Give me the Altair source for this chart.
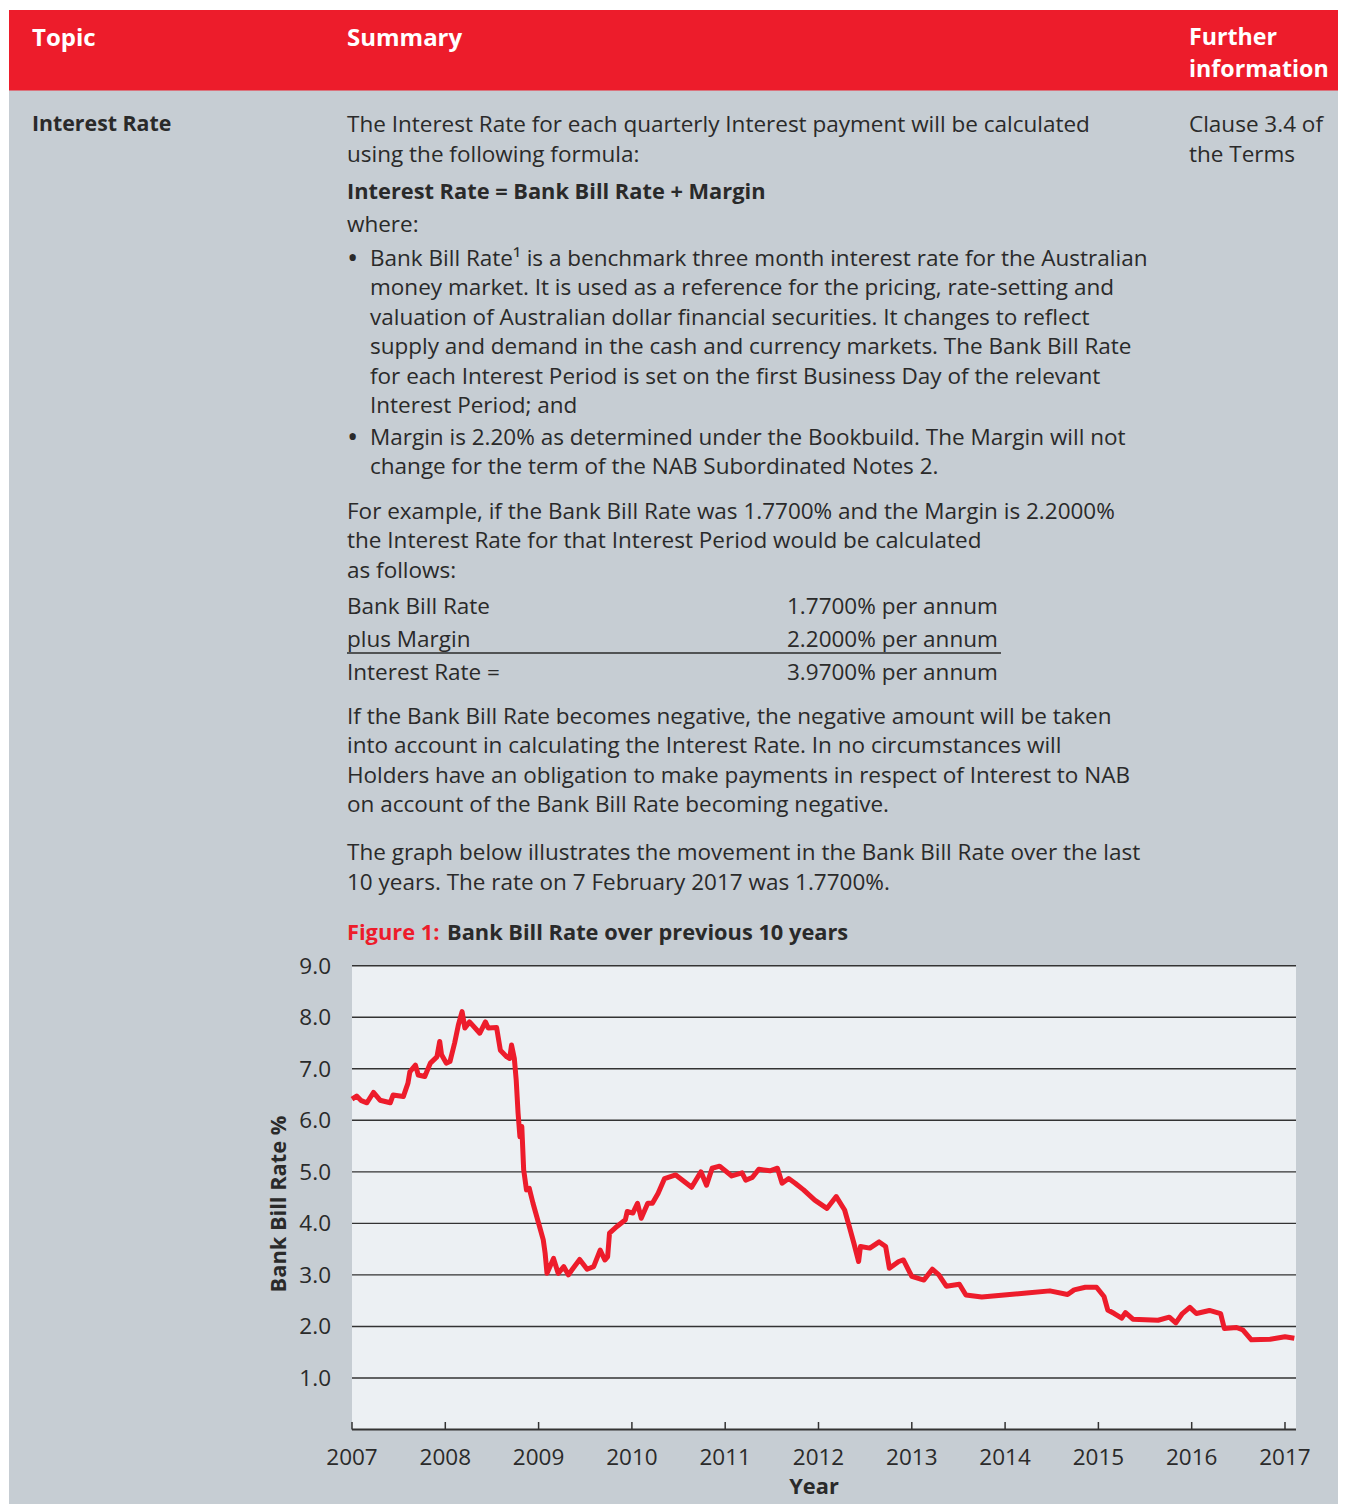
import altair as alt
import pandas as pd

# ---------------- data ----------------
years = [2007.00, 2007.05, 2007.10, 2007.16, 2007.23, 2007.30, 2007.41, 2007.44, 2007.55, 2007.60,
         2007.62, 2007.68, 2007.71, 2007.78, 2007.84, 2007.91, 2007.94, 2007.96, 2008.01, 2008.05,
         2008.10, 2008.14, 2008.18, 2008.21, 2008.26, 2008.37, 2008.43, 2008.46, 2008.55, 2008.59,
         2008.66, 2008.69, 2008.71, 2008.74, 2008.76, 2008.78, 2008.80, 2008.82, 2008.84, 2008.87,
         2008.90, 2008.94, 2009.01, 2009.05, 2009.07, 2009.09, 2009.16, 2009.21, 2009.27, 2009.32,
         2009.37, 2009.44, 2009.52, 2009.59, 2009.66, 2009.71, 2009.74, 2009.76, 2009.84, 2009.93,
         2009.95, 2010.01, 2010.06, 2010.10, 2010.17, 2010.22, 2010.28, 2010.35, 2010.47, 2010.64,
         2010.74, 2010.80, 2010.86, 2010.94, 2011.07, 2011.18, 2011.22, 2011.29, 2011.36, 2011.48,
         2011.56, 2011.61, 2011.68, 2011.75, 2011.84, 2011.96, 2012.09, 2012.19, 2012.28, 2012.33,
         2012.38, 2012.43, 2012.45, 2012.55, 2012.65, 2012.72, 2012.76, 2012.86, 2012.91, 2013.00,
         2013.13, 2013.22, 2013.29, 2013.37, 2013.51, 2013.58, 2013.75, 2013.99, 2014.23, 2014.48,
         2014.67, 2014.74, 2014.86, 2014.98, 2015.06, 2015.10, 2015.17, 2015.25, 2015.29, 2015.37,
         2015.64, 2015.76, 2015.83, 2015.90, 2015.98, 2016.05, 2016.19, 2016.31, 2016.35, 2016.48,
         2016.55, 2016.64, 2016.84, 2017.00, 2017.10]
rates = [6.41, 6.47, 6.38, 6.34, 6.54, 6.39, 6.34, 6.49, 6.46, 6.72,
         6.94, 7.07, 6.88, 6.85, 7.11, 7.23, 7.53, 7.27, 7.11, 7.14,
         7.50, 7.85, 8.11, 7.79, 7.91, 7.69, 7.91, 7.79, 7.80, 7.36,
         7.23, 7.20, 7.46, 7.20, 6.78, 6.14, 5.68, 5.88, 5.04, 4.65,
         4.68, 4.39, 3.94, 3.68, 3.42, 3.03, 3.32, 3.03, 3.16, 3.00,
         3.13, 3.30, 3.11, 3.16, 3.48, 3.29, 3.35, 3.81, 3.94, 4.07,
         4.23, 4.20, 4.39, 4.10, 4.39, 4.39, 4.58, 4.87, 4.94, 4.70,
         5.00, 4.74, 5.07, 5.11, 4.92, 4.98, 4.84, 4.89, 5.05, 5.02,
         5.07, 4.78, 4.87, 4.78, 4.65, 4.45, 4.29, 4.52, 4.26, 3.94,
         3.61, 3.26, 3.55, 3.52, 3.64, 3.55, 3.13, 3.26, 3.29, 2.97,
         2.90, 3.11, 3.00, 2.78, 2.82, 2.61, 2.57, 2.61, 2.65, 2.69,
         2.62, 2.71, 2.76, 2.76, 2.58, 2.32, 2.25, 2.16, 2.27, 2.14,
         2.12, 2.18, 2.07, 2.25, 2.37, 2.25, 2.31, 2.25, 1.96, 1.98,
         1.93, 1.74, 1.75, 1.80, 1.77]
y_grid_values = [1, 2, 3, 4, 5, 6, 7, 8, 9]
y_tick_labels = ["1.0", "2.0", "3.0", "4.0", "5.0", "6.0", "7.0", "8.0", "9.0"]
x_tick_years = [2007, 2008, 2009, 2010, 2011, 2012, 2013, 2014, 2015, 2016, 2017]
x_domain = [2007, 2017.118]
y_domain = [0, 9]

header_cols = ["Topic", "Summary"]
header_further = ["Further", "information"]
topic_label = "Interest Rate"
further_info = ["Clause 3.4 of", "the Terms"]
intro_lines = ["The Interest Rate for each quarterly Interest payment will be calculated",
               "using the following formula:"]
formula_line = "Interest Rate = Bank Bill Rate + Margin"
where_line = "where:"
bullet1_lines = ["Bank Bill Rate\u00b9 is a benchmark three month interest rate for the Australian",
                 "money market. It is used as a reference for the pricing, rate-setting and",
                 "valuation of Australian dollar financial securities. It changes to reflect",
                 "supply and demand in the cash and currency markets. The Bank Bill Rate",
                 "for each Interest Period is set on the first Business Day of the relevant",
                 "Interest Period; and"]
bullet2_lines = ["Margin is 2.20% as determined under the Bookbuild. The Margin will not",
                 "change for the term of the NAB Subordinated Notes 2."]
example_lines = ["For example, if the Bank Bill Rate was 1.7700% and the Margin is 2.2000%",
                 "the Interest Rate for that Interest Period would be calculated",
                 "as follows:"]
table_left = ["Bank Bill Rate", "plus Margin", "Interest Rate ="]
table_right = ["1.7700% per annum", "2.2000% per annum", "3.9700% per annum"]
negative_lines = ["If the Bank Bill Rate becomes negative, the negative amount will be taken",
                  "into account in calculating the Interest Rate. In no circumstances will",
                  "Holders have an obligation to make payments in respect of Interest to NAB",
                  "on account of the Bank Bill Rate becoming negative."]
graph_lines = ["The graph below illustrates the movement in the Bank Bill Rate over the last",
               "10 years. The rate on 7 February 2017 was 1.7700%."]
figure_label = "Figure 1:"
figure_title = "Bank Bill Rate over previous 10 years"
y_title = "Bank Bill Rate %"
x_title = "Year"

# ---------------- styling / layout ----------------
FONT = "Open Sans"
RED = "#ED1C2B"
GRAY = "#C6CDD3"
PLOT_BG = "#ECF0F3"
TXT = "#2A2A2A"
GRID = "#333333"
OFF = 8
W, H = 1330, 1496
FS = 22.5
FSB = 21.8
LH = 29.4
DY = 1  # visual centre correction for 'middle' baseline


def p(v):
    return v - OFF


dummy = pd.DataFrame({"d": [0]})

regular_rows, bold_rows = [], []


def add(rows, x, y, t, color=TXT, size=FS):
    rows.append({"x": p(x), "y": p(y + DY), "t": t, "c": color, "s": size})


# header
HFS = 24
add(bold_rows, 32, 38, header_cols[0], "#FFFFFF", HFS)
add(bold_rows, 347, 38, header_cols[1], "#FFFFFF", HFS)
add(bold_rows, 1189, 36.5, header_further[0], "#FFFFFF", 23.2)
add(bold_rows, 1189, 68.5, header_further[1], "#FFFFFF", 23.2)

# left / right columns
add(bold_rows, 32, 124, topic_label, TXT, 21.3)
for i, t in enumerate(further_info):
    add(regular_rows, 1189, 124 + i * 30, t)

# summary
for i, t in enumerate(intro_lines):
    add(regular_rows, 347, 124 + i * 30, t)
add(bold_rows, 347, 191, formula_line, TXT, FSB)
add(regular_rows, 347, 224, where_line)
for i, t in enumerate(bullet1_lines):
    add(regular_rows, 370, 258 + i * LH, t)
add(regular_rows, 347, 258, "\u2022", TXT, 30)
for i, t in enumerate(bullet2_lines):
    add(regular_rows, 370, 437 + i * LH, t)
add(regular_rows, 347, 437, "\u2022", TXT, 30)
for i, t in enumerate(example_lines):
    add(regular_rows, 347, 511 + i * LH, t)
for i, (a, b) in enumerate(zip(table_left, table_right)):
    add(regular_rows, 347, 606 + i * 33, a)
    add(regular_rows, 787, 606 + i * 33, b)
for i, t in enumerate(negative_lines):
    add(regular_rows, 347, 716 + i * LH, t)
for i, t in enumerate(graph_lines):
    add(regular_rows, 347, 852 + i * 30, t)
add(bold_rows, 347, 932, figure_label, RED, FSB)
add(bold_rows, 447, 932, figure_title, TXT, FSB)


def text_layer(rows, weight):
    return alt.Chart(pd.DataFrame(rows)).mark_text(
        align="left", baseline="middle", font=FONT, fontWeight=weight
    ).encode(
        x=alt.X("x:Q", scale=None, axis=None),
        y=alt.Y("y:Q", scale=None, axis=None),
        text="t:N",
        color=alt.Color("c:N", scale=None, legend=None),
        size=alt.Size("s:Q", scale=None, legend=None),
    )


def rect(x0, y0, x1, y1, color):
    return alt.Chart(dummy).mark_rect(color=color).encode(
        x=alt.value(p(x0)), x2=alt.value(p(x1)), y=alt.value(p(y0)), y2=alt.value(p(y1))
    )


page_bg = rect(9, 10, 1346, 1511, GRAY)
header_bg = rect(9, 10, 1346, 90.5, RED)
table_rule = alt.Chart(dummy).mark_rule(color=TXT, strokeWidth=1.3).encode(
    x=alt.value(p(347)), x2=alt.value(p(1001)), y=alt.value(p(653)))

# ---------------- the chart (via scales) ----------------
xs = alt.Scale(domain=x_domain, range=[p(352), p(1296)], nice=False, zero=False)
ys = alt.Scale(domain=y_domain, range=[p(1429.5), p(965.7)], nice=False, zero=False)

frame_df = pd.DataFrame({"x0": [x_domain[0]], "x1": [x_domain[1]], "y0": [y_domain[0]], "y1": [y_domain[1]]})
plot_bg = alt.Chart(frame_df).mark_rect(color=PLOT_BG).encode(
    x=alt.X("x0:Q", scale=xs, axis=None), x2="x1:Q",
    y=alt.Y("y0:Q", scale=ys, axis=None), y2="y1:Q")

grid_df = pd.DataFrame({"v": y_grid_values, "lab": y_tick_labels,
                        "x0": [x_domain[0]] * len(y_grid_values), "x1": [x_domain[1]] * len(y_grid_values)})
grid = alt.Chart(grid_df).mark_rule(color=GRID, strokeWidth=1.4).encode(
    x=alt.X("x0:Q", scale=xs, axis=None), x2="x1:Q",
    y=alt.Y("v:Q", scale=ys, axis=None))
y_labels = alt.Chart(grid_df).mark_text(align="right", baseline="middle", dy=DY, font=FONT,
                                        fontSize=FS, color=TXT).encode(
    y=alt.Y("v:Q", scale=ys, axis=None), x=alt.value(p(331)), text="lab:N")

base_axis = alt.Chart(frame_df).mark_rule(color=GRID, strokeWidth=2).encode(
    x=alt.X("x0:Q", scale=xs, axis=None), x2="x1:Q",
    y=alt.Y("y0:Q", scale=ys, axis=None))

xt_df = pd.DataFrame({"yr": x_tick_years, "lab": [str(v) for v in x_tick_years]})
x_ticks = alt.Chart(xt_df).mark_rule(color=GRID, strokeWidth=1.5).encode(
    x=alt.X("yr:Q", scale=xs, axis=None), y=alt.value(p(1429.5)), y2=alt.value(p(1422)))
x_labels = alt.Chart(xt_df).mark_text(align="center", baseline="middle", font=FONT, fontSize=FS,
                                      color=TXT).encode(
    x=alt.X("yr:Q", scale=xs, axis=None), y=alt.value(p(1457 + DY)), text="lab:N")

x_title_mark = alt.Chart(dummy).mark_text(
    text=x_title, font=FONT, fontWeight="bold", fontSize=FSB, color=TXT,
    align="center", baseline="middle").encode(x=alt.value(p(814)), y=alt.value(p(1486 + DY)))
y_title_mark = alt.Chart(dummy).mark_text(
    text=y_title, angle=270, font=FONT, fontWeight="bold", fontSize=FSB, color=TXT,
    align="center", baseline="middle").encode(x=alt.value(p(279)), y=alt.value(p(1204)))

line_df = pd.DataFrame({"year": years, "rate": rates})
line = alt.Chart(line_df).mark_line(color=RED, strokeWidth=5, strokeJoin="round").encode(
    x=alt.X("year:Q", scale=xs, axis=None),
    y=alt.Y("rate:Q", scale=ys, axis=None))

chart = alt.layer(
    page_bg, header_bg, plot_bg, grid, base_axis, x_ticks, line,
    y_labels, x_labels, x_title_mark, y_title_mark, table_rule,
    text_layer(regular_rows, "normal"), text_layer(bold_rows, "bold"),
).resolve_scale(x="independent", y="independent").properties(
    width=W, height=H, autosize=alt.AutoSizeParams(type="none"), padding=0,
    background="#FFFFFF"
).configure_view(stroke=None)

chart.save("out.html", embed_options={"renderer": "svg", "actions": False})
